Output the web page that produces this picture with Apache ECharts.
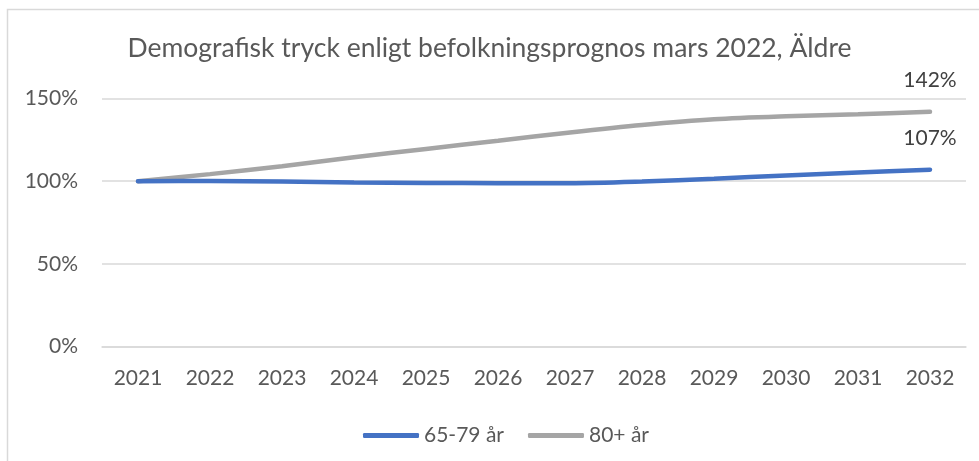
<!DOCTYPE html>
<html>
<head>
<meta charset="utf-8">
<script src="https://cdn.jsdelivr.net/npm/echarts@6/dist/echarts.min.js"></script>
<style>html,body{margin:0;padding:0;background:#fff}#c{width:979px;height:461px}</style>
</head>
<body>
<div id="c"></div>
<script>
const titleText = 'Demografisk tryck enligt befolkningsprognos mars 2022, Äldre';
const years = ['2021','2022','2023','2024','2025','2026','2027','2028','2029','2030','2031','2032'];
const seriesNames = ['65-79 år', '80+ år'];
const young = [100, 100.2, 99.8, 99.3, 99.0, 98.8, 98.8, 99.8, 101.5, 103.5, 105.3, 107];
const old = [100, 104.3, 109, 114.5, 119.5, 124.5, 129.5, 134, 137.5, 139.3, 140.5, 142];
const yTicks = [0, 50, 100, 150];

const font = 'Lato, "Open Sans", sans-serif';
const txt = '#595959';
const chart = echarts.init(document.getElementById('c'), null, {renderer: 'canvas'});

function lastLabel(arr) {
  return {
    show: true,
    position: 'top',
    distance: 21,
    color: '#404040',
    fontSize: 21,
    fontFamily: font,
    formatter: p => p.dataIndex === arr.length - 1 ? Math.round(p.value) + '%' : ''
  };
}

chart.setOption({
  animation: false,
  backgroundColor: '#fff',
  graphic: [{
    type: 'rect',
    shape: {x: 7.5, y: 9.5, width: 1000, height: 500},
    style: {fill: 'none', stroke: '#d9d9d9', lineWidth: 1.5},
    silent: true
  }],
  title: {
    text: titleText,
    left: 'center',
    top: 30,
    textStyle: {color: txt, fontSize: 26.5, fontWeight: 'normal', fontFamily: font}
  },
  legend: {
    top: 420,
    left: 358,
    itemWidth: 56,
    itemHeight: 5,
    itemGap: 24,
    icon: 'roundRect',
    textStyle: {color: txt, fontSize: 21, fontFamily: font},
    data: seriesNames
  },
  grid: {left: 102, right: 13, top: 98.5, bottom: 114.3, containLabel: false},
  xAxis: {
    type: 'category',
    data: years,
    boundaryGap: true,
    axisLine: {show: true, lineStyle: {color: '#d9d9d9', width: 1.5}},
    axisTick: {show: false},
    axisLabel: {color: txt, fontSize: 21, fontFamily: font, margin: 21}
  },
  yAxis: {
    type: 'value',
    min: yTicks[0],
    max: yTicks[yTicks.length - 1],
    interval: 50,
    axisLine: {show: false},
    axisTick: {show: false},
    splitLine: {lineStyle: {color: '#d9d9d9', width: 1.5}},
    axisLabel: {color: txt, fontSize: 21, fontFamily: font, margin: 24, formatter: v => v + '%'}
  },
  series: [
    {
      name: seriesNames[0], type: 'line', data: young, smooth: 0.3,
      symbol: 'circle', symbolSize: 0.01, showSymbol: true,
      lineStyle: {color: '#4472C4', width: 4.5, cap: 'round'},
      itemStyle: {color: '#4472C4'}, label: lastLabel(young), z: 3
    },
    {
      name: seriesNames[1], type: 'line', data: old, smooth: 0.3,
      symbol: 'circle', symbolSize: 0.01, showSymbol: true,
      lineStyle: {color: '#A5A5A5', width: 4.5, cap: 'round'},
      itemStyle: {color: '#A5A5A5'}, label: lastLabel(old), z: 2
    }
  ]
});
</script>
</body>
</html>
